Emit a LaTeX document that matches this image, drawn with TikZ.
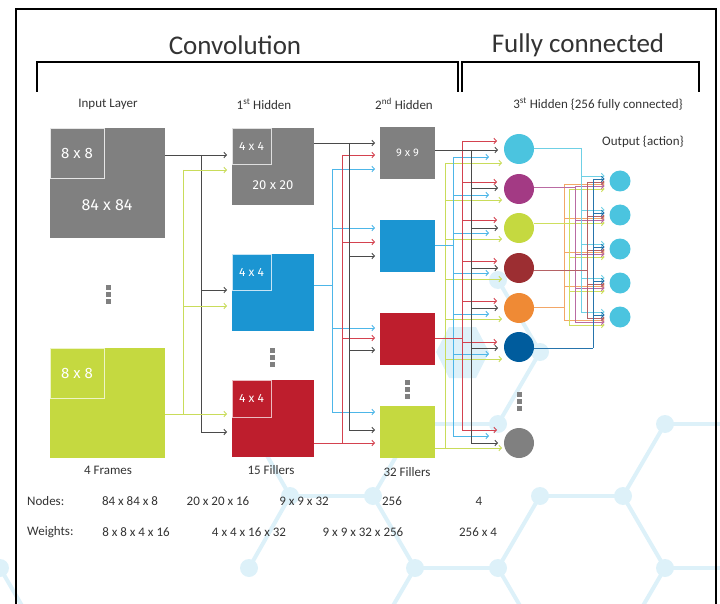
\documentclass[tikz,border=0pt]{standalone}
\usepackage{fontspec}
\setmainfont{Carlito}
\newfontfamily\boxfont{Fira Sans}
\usetikzlibrary{arrows.meta}
\pgfdeclarelayer{hexbg}
\pgfdeclarelayer{wirelayer}
\pgfsetlayers{hexbg,wirelayer,main}
\definecolor{bgblue}{HTML}{DDF1F9}
\definecolor{txtgray}{HTML}{333333}
\definecolor{boxgray}{HTML}{808080}
\definecolor{boxblue}{HTML}{1B95D2}
\definecolor{boxred}{HTML}{BE1E2D}
\definecolor{boxlime}{HTML}{C5D940}
\definecolor{wdark}{HTML}{4A4A4A}
\definecolor{wblue}{HTML}{4DB6E8}
\definecolor{wred}{HTML}{D4424F}
\definecolor{wlime}{HTML}{C9DC5A}
\definecolor{clblue}{HTML}{4BC4DF}
\definecolor{cpurple}{HTML}{A33A84}
\definecolor{cdred}{HTML}{9C2E32}
\definecolor{corange}{HTML}{EF8A35}
\definecolor{cdblue}{HTML}{005C9D}
\newcommand\mydots[2]{\foreach \k in {0,1,2}{\fill[boxgray] ({#1-2.5},{#2-2.5+7.2*\k}) rectangle ++(5,5);}}
\newcommand\outbus[5]{%
  \pgfmathsetmacro\myT{min(#3,181+#5)}%
  \pgfmathsetmacro\myB{max(#3,317+#5)}%
  \draw[ow,draw=#1] (#2.east |- 0,#3) -- (#4,#3);
  \draw[ow,draw=#1] (#4,\myT) -- (#4,\myB);
  \foreach \o/\c in {o1/181,o2/215,o3/249,o4/283,o5/317}{%
    \pgfmathsetmacro\myY{\c+#5}%
    \draw[ow,draw=#1,arw=5pt] (#4,\myY) -- (\o.west |- 0,\myY);}%
}
\begin{document}
\begin{tikzpicture}[x=1pt,y=-1pt,
  box/.style={inner sep=0pt, outer sep=0pt, anchor=north west, draw=none},
  subbox/.style={inner sep=0pt, outer sep=0pt, anchor=north west, draw=#1, line width=0.8pt},
  lbl/.style={text=white, inner sep=0pt, font=\boxfont\fontsize{#1}{#1}\selectfont},
  txt/.style={text=txtgray, inner sep=0pt, font=\fontsize{13}{15}\selectfont},
  ttl/.style={text=txtgray, inner sep=0pt, font=\fontsize{27}{30}\selectfont},
  hid/.style={circle, inner sep=0pt, outer sep=0pt, minimum size=30pt, fill=#1},
  outn/.style={circle, inner sep=0pt, outer sep=0pt, minimum size=21pt, fill=clblue},
  arw/.style={-{Straight Barb[length=2.5pt,width=5.5pt]}, shorten >=#1},
  wd/.style={draw=wdark, line width=0.9pt},
  wb/.style={draw=wblue, line width=0.9pt},
  wr/.style={draw=wred, line width=0.9pt},
  wl/.style={draw=wlime, line width=0.9pt},
  ow/.style={line width=0.9pt},
  frame/.style={draw=black, line width=1.2pt},
  hexline/.style={draw=bgblue, line width=4pt}
]
\useasboundingbox (0,0) rectangle (720,604);

% ---------- background lattice ----------
\begin{pgfonlayer}{hexbg}
\fill[bgblue] (436,352) -- (449,327) -- (476,327) -- (489,352) -- (476,378) -- (449,378) -- cycle;
\foreach \ax/\ay/\bx/\by in {498/280/540/352, 540/352/498/424, 415/424/498/424, 665/424/725/424,
  665/424/623/496, 540/496/623/496, 540/496/498/568, 623/496/665/568, 373/496/415/424,
  290/496/373/496, 373/496/415/568, 290/496/249/424, 290/496/249/568, 415/568/498/568,
  415/568/373/640, 498/568/540/640, 665/568/725/568, 665/568/623/640, 0/568/42/640}
  \draw[hexline] (\ax,\ay) -- (\bx,\by);
\foreach \px/\py in {498/280, 540/352, 498/424, 665/424, 623/496, 540/496, 373/496, 290/496,
  249/568, 415/568, 498/568, 665/568, 0/568}
  \fill[bgblue] (\px,\py) circle[radius=9pt];
\end{pgfonlayer}

% ---------- frame and brackets ----------
\draw[frame] (16,610) -- (16,9) -- (716,9) -- (716,610);
\draw[frame] (37,92) -- (37,62) -- (458,62) -- (458,92);
\draw[frame] (462,92) -- (462,62) -- (699,62) -- (699,92);
\node[ttl] (tconv) at (235,45) {Convolution};
\node[ttl] (tfull) at (578,45) {Fully connected};

% ---------- column headings ----------
\node[txt] (hin) at (108,104) {Input Layer};
\node[txt] (hh1) at (264,104) {1\textsuperscript{st} Hidden};
\node[txt] (hh2) at (404,104) {2\textsuperscript{nd} Hidden};
\node[txt] (hh3) at (598,104) {3\textsuperscript{st} Hidden \{256 fully connected\}};
\node[txt] (hout) at (643,142) {Output \{action\}};

% ---------- input layer ----------
\node[box, fill=boxgray, minimum width=115pt, minimum height=110pt] (in1) at (50,128) {};
\node[subbox=white!80!boxgray, fill=boxgray, minimum width=54pt, minimum height=50pt] (in1s) at (50,128) {};
\node[lbl=15] (in1t) at (in1s.center) {8 x 8};
\node[lbl=16] (in1u) at (107,205) {84 x 84};
\mydots{108.5}{287.5}
\node[box, fill=boxlime, minimum width=115pt, minimum height=110pt] (in2) at (50,348) {};
\node[subbox=white!70!boxlime, fill=boxlime, minimum width=54pt, minimum height=50pt] (in2s) at (50,348) {};
\node[lbl=15] (in2t) at (in2s.center) {8 x 8};
\node[txt] (fin) at (108,470) {4 Frames};

% ---------- 1st hidden ----------
\node[box, fill=boxgray, minimum width=82pt, minimum height=77pt] (h1a) at (232,128) {};
\node[subbox=white!75!boxgray, fill=boxgray, minimum width=39pt, minimum height=36pt] (h1as) at (232,128) {};
\node[lbl=12] (h1at) at (h1as.center) {4 x 4};
\node[lbl=13] (h1au) at (273,185) {20 x 20};
\node[box, fill=boxblue, minimum width=82pt, minimum height=77pt] (h1b) at (232,254) {};
\node[subbox=white!75!boxblue, fill=boxblue, minimum width=39pt, minimum height=36pt] (h1bs) at (232,254) {};
\node[lbl=12] (h1bt) at (h1bs.center) {4 x 4};
\mydots{272.5}{350.5}
\node[box, fill=boxred, minimum width=82pt, minimum height=77pt] (h1c) at (232,380) {};
\node[subbox=white!70!boxred, fill=boxred, minimum width=39pt, minimum height=37pt] (h1cs) at (232,380) {};
\node[lbl=12] (h1ct) at (h1cs.center) {4 x 4};
\node[txt] (f1) at (271,470) {15 Fillers};

% ---------- 2nd hidden ----------
\node[box, fill=boxgray, minimum width=55pt, minimum height=52pt] (h2a) at (380,127) {};
\node[lbl=11] (h2at) at (h2a.center) {9 x 9};
\node[box, fill=boxblue, minimum width=55pt, minimum height=52pt] (h2b) at (380,220) {};
\node[box, fill=boxred, minimum width=55pt, minimum height=52pt] (h2c) at (380,313) {};
\mydots{407.5}{382.5}
\node[box, fill=boxlime, minimum width=55pt, minimum height=52pt] (h2d) at (380,406) {};
\node[txt] (f2) at (407,472) {32 Fillers};

% ---------- 3rd hidden ----------
\node[hid=clblue] (n1) at (519,149) {};
\node[hid=cpurple] (n2) at (519,189) {};
\node[hid=boxlime] (n3) at (519,228) {};
\node[hid=cdred] (n4) at (519,268) {};
\node[hid=corange] (n5) at (519,308) {};
\node[hid=cdblue] (n6) at (519,347) {};
\mydots{519.5}{394.5}
\node[hid=boxgray] (n7) at (519,443) {};

% ---------- output ----------
\node[outn] (o1) at (620,181) {};
\node[outn] (o2) at (620,215) {};
\node[outn] (o3) at (620,249) {};
\node[outn] (o4) at (620,283) {};
\node[outn] (o5) at (620,317) {};

% ---------- table ----------
\node[txt, anchor=west] (rn) at (27,501) {Nodes:};
\node[txt] (rn1) at (130,501) {84 x 84 x 8};
\node[txt] (rn2) at (218,501) {20 x 20 x 16};
\node[txt] (rn3) at (304,501) {9 x 9 x 32};
\node[txt] (rn4) at (392,501) {256};
\node[txt] (rn5) at (479,501) {4};
\node[txt, anchor=west] (rw) at (27,532) {Weights:};
\node[txt] (rw1) at (136,532) {8 x 8 x 4 x 16};
\node[txt] (rw2) at (249,532) {4 x 4 x 16 x 32};
\node[txt] (rw3) at (363,532) {9 x 9 x 32 x 256};
\node[txt] (rw4) at (478,532) {256 x 4};

% ---------- wires ----------
\coordinate (busA) at (201,0);
\coordinate (busB) at (183,0);
\coordinate (busC) at (349,0);
\coordinate (busD) at (342,0);
\coordinate (busE) at (332,0);
\coordinate (busF) at (471,0);
\coordinate (busG) at (462,0);
\coordinate (busH) at (453,0);
\coordinate (busI) at (445,0);
\begin{pgfonlayer}{wirelayer}
% input -> 1st hidden
\draw[wd,arw=5pt] (in1.east |- 0,155) -- (h1a.west |- 0,155);
\draw[wd] (busA |- 0,155) -- (busA |- 0,432);
\foreach \y/\t in {290/h1b,432/h1c} \draw[wd,arw=5pt] (busA |- 0,\y) -- (\t.west |- 0,\y);
\draw[wl,arw=5pt] (in2.east |- 0,414) -- (h1c.west |- 0,414);
\draw[wl] (busB |- 0,170) -- (busB |- 0,414);
\foreach \y/\t in {170/h1a,306/h1b} \draw[wl,arw=5pt] (busB |- 0,\y) -- (\t.west |- 0,\y);
% 1st -> 2nd hidden
\draw[wb] (h1b.east |- 0,285) -- (busE |- 0,285);
\draw[wb] (busE |- 0,169) -- (busE |- 0,412);
\foreach \y/\t in {169/h2a,228/h2b,328/h2c,412/h2d} \draw[wb,arw=5pt] (busE |- 0,\y) -- (\t.west |- 0,\y);
\draw[wr,arw=5pt] (h1c.east |- 0,443) -- (h2d.west |- 0,443);
\draw[wr] (busD |- 0,155) -- (busD |- 0,443);
\foreach \y/\t in {155/h2a,242/h2b,338/h2c} \draw[wr,arw=5pt] (busD |- 0,\y) -- (\t.west |- 0,\y);
\draw[wd,arw=5pt] (h1a.east |- 0,143) -- (h2a.west |- 0,143);
\draw[wd] (busC |- 0,143) -- (busC |- 0,430);
\foreach \y/\t in {256/h2b,350/h2c,430/h2d} \draw[wd,arw=5pt] (busC |- 0,\y) -- (\t.west |- 0,\y);
% 2nd -> 3rd hidden
\draw[wl] (h2d.east |- 0,448) -- (busI |- 0,448);
\draw[wl] (busI |- 0,163) -- (busI |- 0,448);
\foreach \y/\t in {163/n1,200/n2,239/n3,279/n4,319/n5,359/n6,448/n7} \draw[wl,arw=2pt] (busI |- 0,\y) -- (\t.west |- 0,\y);
\draw[wb] (h2b.east |- 0,245) -- (busH |- 0,245);
\draw[wb] (busH |- 0,157) -- (busH |- 0,436);
\foreach \y/\t in {157/n1,195/n2,233/n3,273/n4,314/n5,354/n6,436/n7} \draw[wb,arw=15pt] (busH |- 0,\y) -- (\t.west |- 0,\y);
\draw[wr] (h2c.east |- 0,338) -- (busG |- 0,338);
\draw[wr] (busG |- 0,141) -- (busG |- 0,430);
\foreach \y/\t in {141/n1,182/n2,220/n3,261/n4,301/n5,342/n6,430/n7} \draw[wr,arw=7pt] (busG |- 0,\y) -- (\t.west |- 0,\y);
\draw[wd,arw=6pt] (h2a.east |- 0,150) -- (n1.west |- 0,150);
\draw[wd] (busF |- 0,150) -- (busF |- 0,443);
\foreach \y/\t in {188/n2,228/n3,268/n4,308/n5,348/n6,443/n7} \draw[wd,arw=6pt] (busF |- 0,\y) -- (\t.west |- 0,\y);
% 3rd hidden -> output
\outbus{corange!75!white}{n5}{307}{564}{3}
\outbus{boxlime!85!white}{n3}{223}{569}{8}
\outbus{cpurple!75!white}{n2}{187}{575}{5}
\outbus{clblue!80!white}{n1}{148}{581}{-5}
\outbus{cdred!75!white}{n4}{270}{587}{1}
\outbus{cdblue!85!white}{n6}{348}{593}{-2}
\end{pgfonlayer}
\end{tikzpicture}
\end{document}
